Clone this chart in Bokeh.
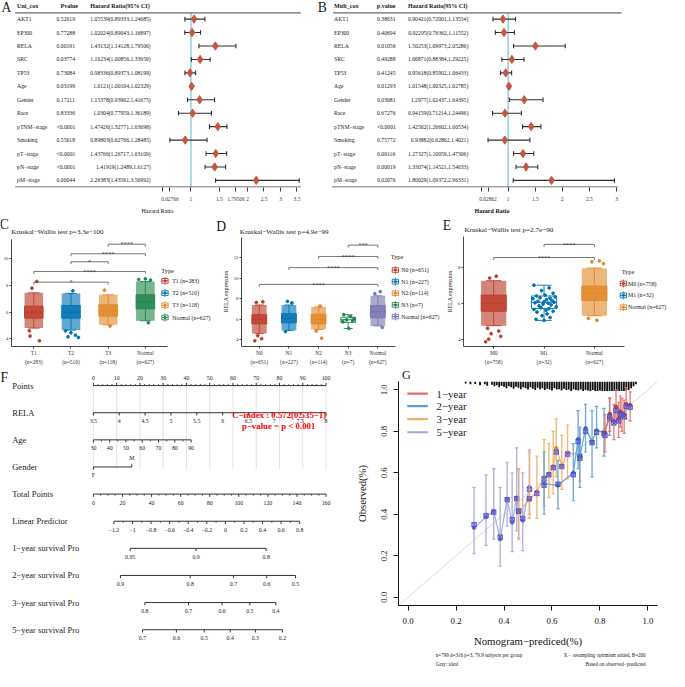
import math
from bokeh.plotting import figure
from bokeh.models import Range1d, FixedTicker, LinearAxis, NumeralTickFormatter
from bokeh.layouts import row, column
from bokeh.embed import file_html
from bokeh.resources import INLINE
from bokeh.core.properties import value

# ======================= DATA =======================
# --- A / B : univariate and multivariate Cox regression ---
cox_vars = ["AKT1", "EP300", "RELA", "SRC", "TP53", "Age", "Gender", "Race",
            "pTNM−stage", "Smoking", "pT−stage", "pN−stage", "pM−stage"]
uni_p = ["0.52619", "0.77288", "0.00191", "0.03774", "0.73084", "0.03199", "0.17211",
         "0.83336", "<0.0001", "0.55618", "<0.0001", "<0.0001", "0.00044"]
uni_hr = [1.05539, 1.02024, 1.43132, 1.16234, 0.98336, 1.0121, 1.15378, 1.0304,
          1.47426, 0.89803, 1.43766, 1.41919, 2.26383]
uni_lo = [0.89333, 0.89043, 1.14128, 1.00856, 0.89373, 1.00104, 0.93962, 0.77959,
          1.32771, 0.62766, 1.26717, 1.2489, 1.43561]
uni_hi = [1.24685, 1.16897, 1.79506, 1.33956, 1.08199, 1.02329, 1.41675, 1.36189,
          1.63698, 1.28485, 1.63109, 1.6127, 3.56992]
multi_p = ["0.38631", "0.40694", "0.01056", "0.49288", "0.41245", "0.01293", "0.03081",
           "0.67276", "<0.0001", "0.75772", "0.00116", "0.00019", "0.02076"]
multi_hr = [0.90421, 0.92295, 1.50253, 1.06871, 0.95618, 1.01548, 1.2977, 0.94159,
            1.42562, 0.93882, 1.27327, 1.33074, 1.80029]
multi_lo = [0.72001, 0.76362, 1.09973, 0.88384, 0.85902, 1.00325, 1.02437, 0.71214,
            1.26602, 0.62862, 1.10059, 1.14521, 1.09372]
multi_hi = [1.13554, 1.11552, 2.05286, 1.29225, 1.06433, 1.02785, 1.64395, 1.24496,
            1.60534, 1.4021, 1.47306, 1.54633, 2.96331]
uni_ticks = [0.5, 0.62766, 1, 1.5, 1.79506, 2, 2.5, 3, 3.5]
uni_tick_labels = ["", "0.62766", "1", "1.5", "1.79506", "2", "2.5", "3", "3.5"]
multi_ticks = [0.5, 0.62862, 1, 1.5, 2, 2.5, 3]
multi_tick_labels = ["", "0.62862", "1", "1.5", "2", "2.5", "3"]

# --- C : RELA expression by T stage ---
C_groups = ["T1", "T2", "T3", "Normal"]
C_n = [283, 510, 118, 627]
C_q1 = [5.55, 5.55, 5.70, 6.25]
C_med = [6.00, 6.00, 6.10, 6.80]
C_q3 = [6.45, 6.50, 6.55, 7.30]
C_wlo = [4.80, 4.65, 5.05, 5.35]
C_whi = [7.45, 7.40, 7.30, 8.30]
C_dense = [True, True, True, True]
C_pt_g = [0, 0, 0, 0, 0, 1, 1, 1, 1, 1, 1, 2, 2, 3, 3, 3, 3]
C_pt_dx = [-0.05, 0.08, -0.12, -0.10, 0.15, -0.15, 0.00, 0.12, -0.08, 0.20, 0.05, -0.10, 0.05, -0.18, 0.00, 0.14, 0.08]
C_pt_y = [7.80, 8.30, 4.60, 4.20, 3.85, 4.60, 4.45, 4.27, 4.15, 4.10, 7.60, 7.65, 4.95, 8.45, 8.50, 8.40, 5.20]
C_sig_a = [3, 2, 2, 1, 1]
C_sig_b = [4, 4, 3, 4, 3]
C_sig_y = [11.10, 10.38, 9.78, 9.05, 8.25]
C_sig_lab = ["****", "****", "*", "****", "*"]
C_kw = "3.3e−100"

# --- D : RELA expression by N stage ---
D_groups = ["N0", "N1", "N2", "N3", "Normal"]
D_n = [651, 227, 114, 7, 627]
D_q1 = [5.55, 5.65, 5.55, 5.70, 6.15]
D_med = [6.00, 6.10, 6.00, 5.95, 6.75]
D_q3 = [6.45, 6.55, 6.50, 6.20, 7.35]
D_wlo = [4.60, 4.90, 5.00, 5.10, 5.35]
D_whi = [7.40, 7.40, 7.20, 6.45, 8.30]
D_dense = [True, True, True, False, True]
D_pt_g = [0, 0, 0, 0, 0, 1, 1, 1, 2, 2, 2, 3, 3, 3, 3, 3, 3, 3, 4, 4, 4]
D_pt_dx = [-0.10, 0.12, -0.05, 0.08, -0.15, -0.05, 0.10, -0.12, 0.05, -0.08, 0.10,
           -0.15, 0.08, 0.20, -0.05, 0.15, -0.18, 0.02, -0.10, 0.08, 0.15]
D_pt_y = [7.65, 7.70, 4.40, 4.10, 3.90, 7.75, 7.60, 4.80, 7.30, 4.85, 4.15,
          6.45, 6.25, 6.05, 5.95, 5.85, 5.75, 5.10, 8.50, 8.70, 5.20]
D_sig_a = [4, 3, 2, 1]
D_sig_b = [5, 5, 5, 5]
D_sig_y = [13.25, 12.14, 11.05, 9.41]
D_sig_lab = ["***", "****", "****", "****"]
D_kw = "4.9e−99"

# --- E : RELA expression by M stage ---
E_groups = ["M0", "M1", "Normal"]
E_n = [758, 32, 627]
E_q1 = [5.55, 5.70, 6.15]
E_med = [6.00, 6.05, 6.55]
E_q3 = [6.45, 6.40, 6.95]
E_wlo = [4.75, 5.04, 5.30]
E_whi = [7.25, 7.00, 7.95]
E_dense = [True, False, True]
E_pt_g = [0, 0, 0, 0, 0, 0, 0, 0] + [1] * 32 + [2, 2, 2, 2, 2]
E_pt_dx = [-0.08, 0.05, -0.12, 0.10, -0.05, 0.14, -0.10, -0.16,
           -0.20, 0.10, -0.05, 0.18, 0.02, -0.15, 0.22, -0.08, 0.12, -0.22, 0.05, 0.16,
           -0.12, 0.00, 0.20, -0.18, 0.08, -0.02, 0.14, -0.10, 0.24, -0.06, 0.10, -0.20,
           0.04, 0.18, -0.14, 0.06, -0.04, 0.12, -0.16, 0.00,
           -0.05, 0.10, 0.18, -0.12, 0.05]
E_pt_y = [7.40, 7.50, 4.60, 4.45, 4.30, 4.15, 4.00, 3.85,
          7.00, 6.85, 6.70, 6.55, 6.45, 6.40, 6.35, 6.30, 6.28, 6.25, 6.20, 6.15,
          6.10, 6.08, 6.05, 6.02, 6.00, 5.95, 5.90, 5.85, 5.80, 5.75, 5.70, 5.65,
          5.60, 5.55, 5.50, 5.40, 5.30, 5.20, 5.10, 5.04,
          8.30, 8.35, 8.20, 5.15, 5.05]
E_sig_a = [2, 1]
E_sig_b = [3, 3]
E_sig_y = [9.27, 8.54]
E_sig_lab = ["****", "****"]
E_kw = "2.7e−90"

# --- F : nomogram ---
nomo_rows = ["Points", "RELA", "Age", "Gender", "Total Points", "Linear Predictor",
             "1−year survival Pro", "2−year survival Pro", "3−year survival Pro", "5−year survival Pro"]
rela_ticks = [3.5, 4, 4.5, 5, 5.5, 6, 6.5, 7, 7.5, 8]
rela_tick_labels = ["3.5", "4", "4.5", "5", "5.5", "6", "6.5", "7", "7.5", "8"]
rela_min, rela_pts_per_unit = 3.5, 22.22
age_ticks = [30, 40, 50, 60, 70, 80, 90]
age_min, age_pts_per_year = 30, 0.70
gender_levels = ["F", "M"]
gender_pts = [0.0, 16.5]
total_ticks = [0, 20, 40, 60, 80, 100, 120, 140, 160]
total_per_point = 0.625          # points-axis units per total point
lp_ticks = [-1.2, -1.0, -0.8, -0.6, -0.4, -0.2, 0.0, 0.2, 0.4, 0.6, 0.8]
lp_tick_labels = ["−1.2", "−1", "−0.8", "−0.6", "−0.4", "−0.2", "0", "0.2", "0.4", "0.6", "0.8"]
lp_total_at_min, lp_total_per_unit = 14.12, 63.87
surv1_vals = ["0.95", "0.9", "0.8"]
surv1_total = [25.3, 70.6, 118.8]
surv2_vals = ["0.9", "0.8", "0.7", "0.6", "0.5"]
surv2_total = [18.6, 66.6, 96.3, 119.2, 139.0]
surv3_vals = ["0.8", "0.7", "0.6", "0.5", "0.4"]
surv3_total = [35.4, 65.4, 88.5, 107.6, 125.5]
surv5_vals = ["0.7", "0.6", "0.5", "0.4", "0.3", "0.2"]
surv5_total = [33.8, 57.1, 76.2, 94.1, 111.4, 130.0]
cindex_text = "C−index : 0.572(0.535−1)"
cindex_p = "p−value = p < 0.001"

# --- G : calibration curves ---
cal_labels = ["1−year", "2−year", "3−year", "5−year"]
pred1 = [0.821, 0.841, 0.858, 0.867, 0.878, 0.885, 0.892, 0.901, 0.909, 0.926]
obs1 = [0.793, 0.884, 0.848, 0.918, 0.859, 0.895, 0.887, 0.879, 0.931, 0.926]
lo1 = [0.70, 0.80, 0.76, 0.84, 0.77, 0.82, 0.80, 0.79, 0.86, 0.85]
hi1 = [0.88, 0.96, 0.93, 1.00, 0.94, 0.97, 0.96, 0.95, 1.01, 0.99]
cor1 = [0.78, 0.87, 0.84, 0.90, 0.85, 0.88, 0.88, 0.87, 0.92, 0.915]
pred2 = [0.567, 0.625, 0.689, 0.709, 0.716, 0.740, 0.767, 0.786, 0.817, 0.840]
obs2 = [0.548, 0.539, 0.600, 0.762, 0.676, 0.814, 0.749, 0.804, 0.793, 0.870]
lo2 = [0.40, 0.426, 0.465, 0.62, 0.53, 0.70, 0.58, 0.72, 0.68, 0.78]
hi2 = [0.70, 0.66, 0.74, 0.90, 0.82, 0.93, 0.90, 0.92, 0.91, 0.96]
cor2 = [0.54, 0.545, 0.59, 0.75, 0.67, 0.80, 0.745, 0.795, 0.79, 0.86]
pred3 = [0.461, 0.506, 0.537, 0.567, 0.587, 0.605, 0.618, 0.641, 0.665, 0.716]
obs3 = [0.410, 0.470, 0.509, 0.578, 0.593, 0.630, 0.718, 0.634, 0.696, 0.687]
lo3 = [0.286, 0.38, 0.38, 0.44, 0.48, 0.50, 0.58, 0.52, 0.57, 0.56]
hi3 = [0.62, 0.70, 0.68, 0.76, 0.74, 0.80, 0.86, 0.78, 0.83, 0.81]
cor3 = [0.415, 0.475, 0.50, 0.57, 0.59, 0.625, 0.70, 0.63, 0.69, 0.68]
pred5 = [0.275, 0.325, 0.357, 0.384, 0.413, 0.434, 0.453, 0.461, 0.478, 0.506]
obs5 = [0.335, 0.387, 0.415, 0.280, 0.473, 0.360, 0.480, 0.418, 0.370, 0.530]
lo5 = [0.21, 0.25, 0.28, 0.15, 0.343, 0.22, 0.32, 0.28, 0.225, 0.40]
hi5 = [0.53, 0.59, 0.62, 0.53, 0.65, 0.60, 0.72, 0.62, 0.60, 0.71]
cor5 = [0.350, 0.393, 0.410, 0.290, 0.470, 0.375, 0.475, 0.415, 0.380, 0.520]
rug_x = [0.24, 0.26, 0.28, 0.30, 0.32, 0.33, 0.35, 0.36, 0.37, 0.38, 0.39, 0.40, 0.41, 0.42,
         0.43, 0.44, 0.45, 0.46, 0.47, 0.48, 0.49, 0.50, 0.51, 0.52, 0.53, 0.54, 0.55, 0.56,
         0.57, 0.58, 0.59, 0.60, 0.61, 0.62, 0.63, 0.64, 0.65, 0.66, 0.67, 0.68, 0.69, 0.70,
         0.71, 0.72, 0.73, 0.74, 0.75, 0.76, 0.77, 0.78, 0.79, 0.80, 0.81, 0.82, 0.83, 0.84,
         0.85, 0.86, 0.87, 0.88, 0.89, 0.90, 0.91, 0.92, 0.93, 0.94, 0.95]
rug_h = [0.20, 0.30, 0.25, 0.40, 0.30, 0.45, 0.35, 0.50, 0.40, 0.60, 0.45, 0.55, 0.70, 0.50,
         0.60, 0.75, 0.55, 0.65, 0.80, 0.60, 0.70, 0.85, 0.60, 0.75, 0.90, 0.65, 0.80, 0.70,
         0.90, 0.75, 0.85, 0.95, 0.70, 0.85, 0.80, 0.95, 0.75, 0.90, 0.85, 1.00, 0.80, 0.90,
         0.95, 0.85, 1.00, 0.90, 0.95, 1.00, 0.90, 1.00, 1.00, 0.95, 1.00, 1.00, 1.00, 1.00,
         1.00, 1.00, 1.00, 1.00, 1.00, 1.00, 0.95, 0.90, 0.70, 0.50, 0.30]
cal_ticks = [0, 0.2, 0.4, 0.6, 0.8, 1.0]

# ======================= STYLE / LAYOUT =======================
S = 669.0 / 685.0
FONT = "Liberation Serif"
INK = "#1a1a1a"
NEJM = ["#BC3C29", "#0072B5", "#E18727", "#20854E", "#7876B1"]
R2_BOTTOM = 377.0
DE_SPLIT = 452.0
G_TOP = 390.0


def sc(v):
    return int(round(v * S))


def fpx(v):
    return "%.2fpx" % (v * S)


def lin(q, q0, q1, v0, v1):
    return v0 + (q - q0) * (v1 - v0) / (q1 - q0)


def make_fig(X0, X1, Y0, Y1, fx0, fx1, fy0, fy1, xr, yr):
    p = figure(width=sc(X1) - sc(X0), height=sc(Y1) - sc(Y0),
               output_backend="svg", toolbar_location=None,
               x_range=Range1d(*xr), y_range=Range1d(*yr),
               x_axis_location=None, y_axis_location=None,
               min_border_left=sc(fx0) - sc(X0), min_border_right=sc(X1) - sc(fx1),
               min_border_top=sc(fy0) - sc(Y0), min_border_bottom=sc(Y1) - sc(fy1))
    p.extra_x_ranges = {"px": Range1d(fx0, fx1)}
    p.extra_y_ranges = {"py": Range1d(fy1, fy0)}
    p.outline_line_color = None
    p.grid.visible = False
    return p


def strip_fig(X0, X1, Y0, Y1):
    return make_fig(X0, X1, Y0, Y1, X0, X1, Y0, Y1, (X0, X1), (Y1, Y0))


def ptext(p, xs, ys, texts, size, color=INK, align="left", baseline="middle", bold=False,
          xr="px", yr="py", angle=0.0):
    p.text(x=xs, y=ys, text=texts, x_range_name=xr, y_range_name=yr,
           text_font=value(FONT), text_font_size=fpx(size), text_color=color,
           text_align=align, text_baseline=baseline,
           text_font_style="bold" if bold else "normal", angle=angle)


def style_axis(ax, size, color="#333333", tick_out=3, standoff=2, lw=0.9):
    ax.axis_line_color = color
    ax.axis_line_width = lw
    ax.major_tick_line_color = color
    ax.major_tick_line_width = lw
    ax.major_tick_out = max(1, int(round(tick_out * S)))
    ax.major_tick_in = 0
    ax.minor_tick_out = 0
    ax.minor_tick_in = 0
    ax.major_label_text_font = FONT
    ax.major_label_text_font_size = fpx(size)
    ax.major_label_text_color = color
    ax.major_label_standoff = int(round(standoff * S))


def axis_title(ax, text, size, standoff, bold=False, color="#111111"):
    ax.axis_label = text
    ax.axis_label_text_font = FONT
    ax.axis_label_text_font_size = fpx(size)
    ax.axis_label_text_font_style = "bold" if bold else "normal"
    ax.axis_label_text_color = color
    ax.axis_label_standoff = int(round(standoff * S))


# ---------------- A / B forest tables ----------------
ROW0, ROWH = 19.0, 13.73


def row_of(py):
    return (py - ROW0) / ROWH


def tf_uni(h):
    return h if h <= 2 else 2 + (h - 2) * 0.583


def tf_multi(h):
    return h


def forest_panel(X0, X1, head_rule, bot_rule, names, pv, hr, lo, hi, tf, one_px, ppu,
                 col_name, col_p, head_p, col_hr_right, head_hr, heads,
                 ticks, tick_labels, label_span, letter, letter_xy, hrlab_bold):
    def v_of(q):
        return 1 + (q - one_px) / ppu

    p = make_fig(X0, X1, 0, 222, X0, X1, 0, 191, (v_of(X0), v_of(X1)), (row_of(191), row_of(0)))
    n = len(names)
    rows = list(range(n))
    thr = [tf(v) for v in hr]
    tlo = [tf(v) for v in lo]
    thi = [tf(v) for v in hi]
    p.segment(x0=[1], y0=[12.7], x1=[1], y1=[191], y_range_name="py",
              line_color="#86CCDA", line_width=1.4)
    p.segment(x0=[head_rule[0], bot_rule[0]], y0=[12.7, 190.5], x1=[head_rule[1], bot_rule[1]], y1=[12.7, 190.5],
              x_range_name="px", y_range_name="py", line_color="#444444", line_width=1)
    p.segment(x0=tlo, y0=rows, x1=thi, y1=rows, line_color="#2e2e2e", line_width=1.1)
    cap = 0.17
    ya = [r - cap for r in rows]
    yb = [r + cap for r in rows]
    p.segment(x0=tlo, y0=ya, x1=tlo, y1=yb, line_color="#2e2e2e", line_width=1.1)
    p.segment(x0=thi, y0=ya, x1=thi, y1=yb, line_color="#2e2e2e", line_width=1.1)
    p.scatter(x=thr, y=rows, marker="diamond", size=8.5 * S, fill_color="#C9553F", line_color="#C9553F")
    ptext(p, [col_name] * n, rows, names, 5.8, yr="default")
    ptext(p, [col_p] * n, rows, pv, 5.8, yr="default")
    hrs = ["%s(%s,%s)" % (h, l, u) for h, l, u in zip(hr, lo, hi)]
    ptext(p, [col_hr_right] * n, rows, hrs, 5.8, align="right", yr="default")
    ptext(p, [col_name, head_p, head_hr], [-1, -1, -1], heads, 6.2, bold=True, yr="default")
    ptext(p, [letter_xy[0]], [letter_xy[1]], [letter], 14, align="center")
    tt = [tf(t) for t in ticks]
    ax = LinearAxis(ticker=FixedTicker(ticks=tt, minor_ticks=[]),
                    bounds=(v_of(label_span[0]), v_of(label_span[1])),
                    major_label_overrides={a: b for a, b in zip(tt, tick_labels)})
    style_axis(ax, 5.5, color="#3a3a3a", tick_out=4.5, standoff=5, lw=1)
    ax.axis_line_color = None
    axis_title(ax, "Hazard Ratio", 6.2, 4, bold=hrlab_bold)
    p.add_layout(ax, "below")
    return p


pA = forest_panel(0, 322, (15, 308), (15, 308), cox_vars, uni_p, uni_hr, uni_lo, uni_hi,
                  tf_uni, 195.3, 58.0, 17, 57.5, 61.5, 154, 92,
                  ["Uni_cox", "Pvalue", "Hazard Ratio(95% CI)"],
                  uni_ticks, uni_tick_labels, (106, 304.5), "A", (6, 7.5), False)
pB = forest_panel(322, 685, (341, 636), (340, 632), cox_vars, multi_p, multi_hr, multi_lo,
                  multi_hi, tf_multi, 520.0, 55.4, 342, 386, 385.7, 479.3, 417.7,
                  ["Mult_cox", "p.value", "Hazard Ratio(95% CI)"],
                  multi_ticks, multi_tick_labels, (440.4, 631.2), "B", (330, 7.5), True)

# ---------------- C / D / E header strip ----------------
pHead = strip_fig(0, 685, 222, 242)
ptext(pHead, [3.8, 226, 457], [229.5, 231, 230], ["C", "D", "E"], 14, align="center")
ptext(pHead, [11, 245, 475], [237, 237, 235],
      ["Kruskal−Wallis test p=" + C_kw, "Kruskal−Wallis test p=" + D_kw, "Kruskal−Wallis test p=" + E_kw], 7.3)


# ---------------- C / D / E box plots ----------------
def box_panel(fig_box, plot_box, ylim, yticks, groups, ns, q1, med, q3, wlo, whi, dense,
              pt_g, pt_dx, pt_y, sig_a, sig_b, sig_y, sig_lab, ylabel, leg):
    X0, X1, Y0, Y1 = fig_box
    px0, px1, py0, py1 = plot_box
    ng = len(groups)
    xv0, xv1 = 0.4, ng + 0.6
    yv0, yv1 = ylim
    xr = (xv0, lin(X1, px0, px1, xv0, xv1))
    yr = (yv0, lin(Y0, py1, py0, yv0, yv1))
    p = make_fig(X0, X1, Y0, Y1, px0, X1, Y0, py1, xr, yr)
    ppu = (py1 - py0) / (yv1 - yv0)
    cols = NEJM[:ng]
    xs = list(range(1, ng + 1))
    cw, bw, jw = 0.15, 0.25, 0.25
    p.segment(x0=xs, y0=q3, x1=xs, y1=whi, line_color=cols, line_width=0.9)
    p.segment(x0=xs, y0=q1, x1=xs, y1=wlo, line_color=cols, line_width=0.9)
    p.segment(x0=[x - cw for x in xs], y0=whi, x1=[x + cw for x in xs], y1=whi, line_color=cols, line_width=0.9)
    p.segment(x0=[x - cw for x in xs], y0=wlo, x1=[x + cw for x in xs], y1=wlo, line_color=cols, line_width=0.9)
    p.quad(left=[x - bw for x in xs], right=[x + bw for x in xs], bottom=q1, top=q3,
           fill_color="white", line_color=cols, line_width=0.9)
    p.segment(x0=[x - bw for x in xs], y0=med, x1=[x + bw for x in xs], y1=med, line_color=cols, line_width=1.1)
    for i in range(ng):
        if dense[i]:
            p.quad(left=[xs[i] - jw], right=[xs[i] + jw], bottom=[wlo[i]], top=[whi[i]],
                   fill_color=cols[i], fill_alpha=0.62, line_color=None)
            p.quad(left=[xs[i] - jw], right=[xs[i] + jw], bottom=[q1[i]], top=[q3[i]],
                   fill_color=cols[i], fill_alpha=0.8, line_color=None)
    p.scatter(x=[g + 1 + d for g, d in zip(pt_g, pt_dx)], y=pt_y, size=2.8 * S,
              fill_color=[cols[g] for g in pt_g], line_color=[cols[g] for g in pt_g])
    drop = 2.5 / ppu
    p.multi_line(xs=[[a, a, b, b] for a, b in zip(sig_a, sig_b)],
                 ys=[[y - drop, y, y, y - drop] for y in sig_y], line_color="#555555", line_width=0.8)
    ptext(p, [(a + b) / 2 for a, b in zip(sig_a, sig_b)], [y + 0.3 / ppu for y in sig_y], sig_lab, 6.5,
          color="#333333", align="center", baseline="alphabetic", xr="default", yr="default")
    yax = LinearAxis(ticker=FixedTicker(ticks=yticks, minor_ticks=[]), bounds=(yv0, yv1))
    style_axis(yax, 5.0, tick_out=2.5, standoff=1.5)
    if ylabel:
        axis_title(yax, ylabel, 6, 2, color="#222222")
    p.add_layout(yax, "left")
    # category names (first line) and group sizes (second line) as two stacked axes
    xax = LinearAxis(ticker=FixedTicker(ticks=xs, minor_ticks=[]), bounds=(xv0, xv1),
                     major_label_overrides={x: g for x, g in zip(xs, groups)})
    style_axis(xax, 5.6, tick_out=2.5, standoff=1)
    p.add_layout(xax, "below")
    nax = LinearAxis(ticker=FixedTicker(ticks=xs, minor_ticks=[]), bounds=(xv0, xv1),
                     major_label_overrides={x: "(n=%d)" % nn for x, nn in zip(xs, ns)})
    style_axis(nax, 5.6, tick_out=0, standoff=0)
    nax.axis_line_color = None
    nax.major_tick_out = 0
    nax.major_label_standoff = 0
    p.add_layout(nax, "below")
    # legend
    kx, tx, ttl, y0, dy = leg
    ptext(p, [ttl[0]], [ttl[1]], ["Type"], 6.5)
    ly = [y0 + i * dy for i in range(ng)]
    p.segment(x0=[kx + 3.75] * ng, y0=[y - 4 for y in ly], x1=[kx + 3.75] * ng, y1=[y + 4 for y in ly],
              x_range_name="px", y_range_name="py", line_color=cols, line_width=0.9)
    p.quad(left=[kx + 0.5] * ng, right=[kx + 7] * ng, top=[y - 2.4 for y in ly], bottom=[y + 2.4 for y in ly],
           x_range_name="px", y_range_name="py", fill_color="white", line_color=cols, line_width=0.9)
    p.segment(x0=[kx + 0.5] * ng, y0=ly, x1=[kx + 7] * ng, y1=ly,
              x_range_name="px", y_range_name="py", line_color=cols, line_width=0.9)
    p.scatter(x=[kx + 3.75] * ng, y=ly, x_range_name="px", y_range_name="py", size=2.4 * S,
              fill_color=cols, line_color=cols)
    ptext(p, [tx] * ng, ly, ["%s (n=%d)" % (g, nn) for g, nn in zip(groups, ns)], 6)
    return p


pC = box_panel((0, 220, 242, R2_BOTTOM), (11, 171, 245, 356), (3.42, 11.46), [4, 6, 8, 10],
               C_groups, C_n, C_q1, C_med, C_q3, C_wlo, C_whi, C_dense, C_pt_g, C_pt_dx, C_pt_y,
               C_sig_a, C_sig_b, C_sig_y, C_sig_lab, None, (164.5, 175.7, (164.5, 277), 288, 12.65))
pD = box_panel((220, DE_SPLIT, 242, R2_BOTTOM), (247, 405, 243, 356), (3.34, 14.0), [4, 6, 8, 10, 12],
               D_groups, D_n, D_q1, D_med, D_q3, D_wlo, D_whi, D_dense, D_pt_g, D_pt_dx, D_pt_y,
               D_sig_a, D_sig_b, D_sig_y, D_sig_lab, "RELA expression", (401, 410.7, (400, 263), 276.7, 12.07))
pE = box_panel((DE_SPLIT, 685, 242, R2_BOTTOM), (474, 639, 242, 354.3), (3.59, 9.71), [4, 6, 8],
               E_groups, E_n, E_q1, E_med, E_q3, E_wlo, E_whi, E_dense, E_pt_g, E_pt_dx, E_pt_y,
               E_sig_a, E_sig_b, E_sig_y, E_sig_lab, "RELA expression", (634, 642.5, (636, 277.7), 290, 12.1))


# ---------------- F nomogram ----------------
def nomo_panel():
    X0, X1, Y0, Y1 = 0, 358, R2_BOTTOM, 687
    px0, ppp = 95.0, 2.38
    p = make_fig(X0, X1, Y0, Y1, X0, X1, Y0, Y1, ((X0 - px0) / ppp, (X1 - px0) / ppp), (Y1, Y0))
    ys = [394.5 + 27.75 * i for i in range(10)]
    LC = "#333333"

    def axis_row(y, a, b, major, labels, minor=(), up=False, dlab=8.6):
        d = -1 if up else 1
        p.segment(x0=[a], y0=[y], x1=[b], y1=[y], y_range_name="py", line_color=LC, line_width=1)
        p.segment(x0=major, y0=[y] * len(major), x1=major, y1=[y + d * 2.8] * len(major),
                  y_range_name="py", line_color=LC, line_width=1)
        if minor:
            p.segment(x0=list(minor), y0=[y] * len(minor), x1=list(minor), y1=[y + d * 1.7] * len(minor),
                      y_range_name="py", line_color=LC, line_width=0.8)
        ptext(p, major, [y + d * dlab] * len(major), labels, 6, align="center", xr="default")

    grid_pts = list(range(0, 101, 10))
    p.segment(x0=grid_pts, y0=[ys[0]] * len(grid_pts), x1=grid_pts, y1=[480] * len(grid_pts),
              y_range_name="py", line_color="#E3E3E3", line_width=1)
    ptext(p, [12] * 10, ys, nomo_rows, 8.7)
    ptext(p, [3.8], [386], ["F"], 14, align="center")
    axis_row(ys[0], 0, 100, grid_pts, [str(v) for v in grid_pts],
             [v for v in range(0, 101, 2) if v % 10], up=True, dlab=7.8)
    rp = [(v - rela_min) * rela_pts_per_unit for v in rela_ticks]
    axis_row(ys[1], rp[0], rp[-1], rp, rela_tick_labels)
    ap = [(v - age_min) * age_pts_per_year for v in age_ticks]
    amin = [(v + 5 - age_min) * age_pts_per_year for v in age_ticks[:-1]]
    axis_row(ys[2], ap[0], ap[-1], ap, [str(v) for v in age_ticks], amin)
    yg = ys[3]
    p.segment(x0=[gender_pts[0]], y0=[yg], x1=[gender_pts[1]], y1=[yg], y_range_name="py", line_color=LC, line_width=1)
    p.segment(x0=gender_pts, y0=[yg, yg], x1=gender_pts, y1=[yg + 2.8, yg - 2.8], y_range_name="py",
              line_color=LC, line_width=1)
    ptext(p, gender_pts, [yg + 8.7, yg - 8.7], gender_levels, 6, align="center", xr="default")
    tp = [v * total_per_point for v in total_ticks]
    tmin = [v * total_per_point for v in range(0, 161, 5) if v % 20]
    axis_row(ys[4], tp[0], tp[-1], tp, [str(v) for v in total_ticks], tmin)
    lpp = [(lp_total_at_min + (v - lp_ticks[0]) * lp_total_per_unit) * total_per_point for v in lp_ticks]
    lpm = [(a + b) / 2 for a, b in zip(lpp[:-1], lpp[1:])]
    axis_row(ys[5], lpp[0], lpp[-1], lpp, lp_tick_labels, lpm)
    for k, (vals, tot) in enumerate([(surv1_vals, surv1_total), (surv2_vals, surv2_total),
                                     (surv3_vals, surv3_total), (surv5_vals, surv5_total)]):
        sp = [v * total_per_point for v in tot]
        axis_row(ys[6 + k], sp[0], sp[-1], sp, vals)
    ptext(p, [285], [424.3], [cindex_text], 9, color="#FF0000", align="center", bold=True)
    ptext(p, [284.5], [435.7], [cindex_p], 9, color="#FF0000", align="center", bold=True)
    return p


pF = nomo_panel()


# ---------------- G calibration ----------------
def calib_panel():
    X0, X1, Y0, Y1 = 358, 685, G_TOP, 665
    p = make_fig(X0, X1, Y0, Y1, 408, 673, G_TOP, 619.5, (-0.04, 1.04), (-0.04, 1.04))
    xax = LinearAxis(ticker=FixedTicker(ticks=cal_ticks, minor_ticks=[]),
                     formatter=NumeralTickFormatter(format="0.0"))
    style_axis(xax, 9, color="#111111", tick_out=5, standoff=7, lw=1)
    axis_title(xax, "Nomogram−prediced(%)", 11, 8)
    p.add_layout(xax, "below")
    yax = LinearAxis(ticker=FixedTicker(ticks=cal_ticks, minor_ticks=[]),
                     formatter=NumeralTickFormatter(format="0.0"))
    style_axis(yax, 9, color="#111111", tick_out=5, standoff=6, lw=1)
    yax.major_label_orientation = "vertical"
    axis_title(yax, "Observed(%)", 11, 11)
    p.add_layout(yax, "left")
    p.line(x=[-0.04, 1.04], y=[-0.04, 1.04], line_color="#DADADA", line_width=1)
    p.segment(x0=rug_x, y0=[1.04] * len(rug_x), x1=rug_x, y1=[1.04 - h * 0.046 for h in rug_h],
              line_color="#111111", line_width=1.8)
    line_cols = ["#E0716A", "#5A9ED3", "#F2AD5E", "#A9A5DA"]
    dot_cols = ["#B5403A", "#2F72B3", "#E0861F", "#6A66CC"]
    sets = [(pred1, obs1, lo1, hi1, cor1), (pred2, obs2, lo2, hi2, cor2),
            (pred3, obs3, lo3, hi3, cor3), (pred5, obs5, lo5, hi5, cor5)]
    for k in [3, 2, 1, 0]:
        pr, ob, lo, hi, co = sets[k]
        lc = line_cols[k]
        cap = 0.007
        p.segment(x0=pr, y0=lo, x1=pr, y1=hi, line_color=lc, line_alpha=0.85, line_width=1.4)
        p.segment(x0=[x - cap for x in pr], y0=lo, x1=[x + cap for x in pr], y1=lo, line_color=lc,
                  line_alpha=0.85, line_width=1.2)
        p.segment(x0=[x - cap for x in pr], y0=hi, x1=[x + cap for x in pr], y1=hi, line_color=lc,
                  line_alpha=0.85, line_width=1.2)
        p.line(x=pr, y=ob, line_color=lc, line_alpha=0.9, line_width=1.3)
        p.scatter(x=pr, y=ob, marker="circle", size=3.6 * S, fill_color=dot_cols[k], line_color=dot_cols[k])
        p.scatter(x=pr, y=co, marker="square_x", size=4.5 * S, line_color="#4444CC", fill_color="#9A9AE6",
                  fill_alpha=0.5, line_width=0.8)
    ly = [402.5, 415.3, 428.5, 442.0]
    p.segment(x0=[417] * 4, y0=ly, x1=[438] * 4, y1=ly, x_range_name="px", y_range_name="py",
              line_color=line_cols, line_width=2.2)
    ptext(p, [447] * 4, ly, cal_labels, 11)
    return p


pGtop = strip_fig(358, 685, R2_BOTTOM, G_TOP)
ptext(pGtop, [368], [383.6], ["G"], 12.5, align="center")
pG = calib_panel()
pGbot = strip_fig(358, 685, 665, 687)
ptext(pGbot, [405, 405], [670, 679.3], ["n=799 d=316 p=3, 79.9 subjects per group", "Gray: ideal"], 5.2)
ptext(pGbot, [670, 670], [670.5, 679.3], ["X − resampling optimism added, B=200", "Based on observed−predicted"],
      5.2, align="right")

layout = column(row(pA, pB),
                pHead,
                row(pC, pD, pE),
                row(pF, column(pGtop, pG, pGbot)))
open("out.html", "w").write(file_html(layout, INLINE, title="RELA prognostic figure"))
